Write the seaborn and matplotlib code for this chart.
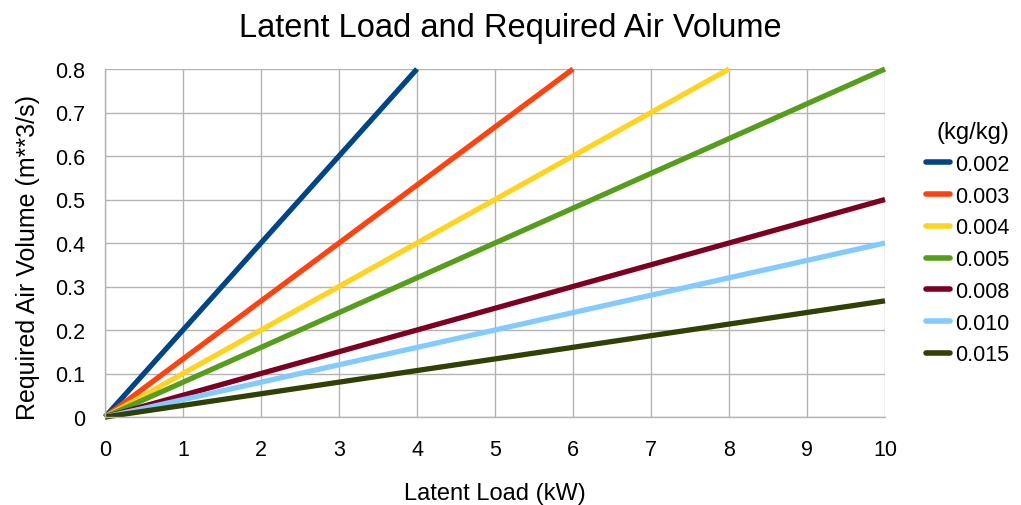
import numpy as np
import pandas as pd
import matplotlib
matplotlib.use("Agg")
import matplotlib.pyplot as plt
import seaborn as sns

# humidity ratio difference series (kg/kg)
SERIES = ["0.002", "0.003", "0.004", "0.005", "0.008", "0.010", "0.015"]
LOAD_KW = [
    [0, 4],
    [0, 6],
    [0, 8],
    [0, 10],
    [0, 10],
    [0, 10],
    [0, 10],
]
AIR_VOLUME = [
    [0, 0.8],
    [0, 0.8],
    [0, 0.8],
    [0, 0.8],
    [0, 0.5],
    [0, 0.4],
    [0, 0.267],
]
COLORS = ["#004586", "#ff420e", "#ffd320", "#579d1c", "#7e0021", "#83caff", "#314004"]
GRID = "#b3b3b3"

rows = []
for name, xs, ys in zip(SERIES, LOAD_KW, AIR_VOLUME):
    for x, y in zip(xs, ys):
        rows.append({"series": name, "load": x, "volume": y})
df = pd.DataFrame(rows)

sns.set_theme(style="white")
plt.rcParams["font.family"] = ["Liberation Sans", "DejaVu Sans"]
plt.rcParams["text.color"] = "black"
plt.rcParams["axes.labelcolor"] = "black"

fig = plt.figure(figsize=(10.21, 5.06), dpi=100, facecolor="white")
ax = fig.add_axes([105 / 1021, 88 / 506, 780 / 1021, 348 / 506])

sns.lineplot(
    data=df, x="load", y="volume", hue="series", hue_order=SERIES,
    palette=COLORS, linewidth=3.8, ax=ax, legend=False,
    solid_capstyle="butt", clip_on=False,
)

ax.set_xlim(0, 10)
ax.set_ylim(0, 0.8)
ax.set_xticks(range(0, 11))
ax.set_yticks(np.arange(0, 0.81, 0.1))
ax.set_yticklabels(["0"] + [f"{v:.1f}" for v in np.arange(0.1, 0.81, 0.1)])
ax.grid(True, color=GRID, linewidth=1.0)
ax.set_axisbelow(True)
for side in ("top", "right"):
    ax.spines[side].set_visible(False)
for side in ("left", "bottom"):
    ax.spines[side].set_color(GRID)
    ax.spines[side].set_linewidth(1.0)
ax.tick_params(axis="both", length=7, width=1.0, color=GRID, labelsize=15.5,
               labelcolor="black", direction="out", pad=7)
ax.tick_params(axis="x", pad=9)

ax.set_xlabel("Latent Load (kW)", fontsize=17, labelpad=16)
ax.set_ylabel("Required Air Volume (m**3/s)", fontsize=18)
ax.yaxis.set_label_coords(-0.083, 0.46)
fig.suptitle("Latent Load and Required Air Volume", fontsize=23.5, y=0.975)

handles = [plt.Line2D([], [], color=c, linewidth=4) for c in COLORS]
leg = fig.legend(handles, SERIES, title="(kg/kg)", loc="upper left",
                 bbox_to_anchor=(0.888, 0.797), frameon=False, fontsize=15.5,
                 title_fontsize=17, handlelength=1.1, handletextpad=0.25,
                 labelspacing=0.5)
leg._legend_box.align = "right"

fig.savefig("out.png", dpi=100, facecolor="white")
